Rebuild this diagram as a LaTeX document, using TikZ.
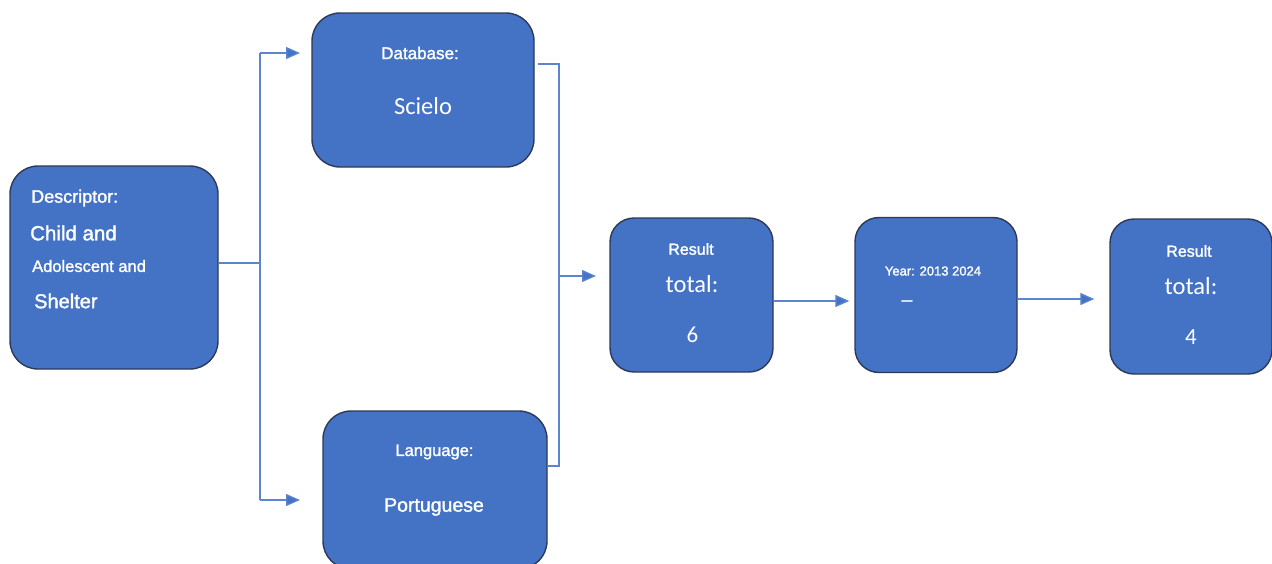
\documentclass[tikz,border=0pt]{standalone}
\usepackage{fontspec}
\setmainfont{Liberation Sans}
\newfontfamily\semib{Liberation Sans}[FakeBold=1.6]
\newfontfamily\calib{Carlito}
\usetikzlibrary{arrows.meta}
\definecolor{boxfill}{HTML}{4472C4}
\definecolor{boxline}{HTML}{2C3A58}
\definecolor{connc}{HTML}{5B85D0}
\begin{document}
\begin{tikzpicture}[x=1pt,y=-1pt,
  box/.style={draw=boxline, line width=1.4pt, fill=boxfill, rounded corners=28pt, inner sep=0pt},
  sbox/.style={box, rounded corners=24pt},
  lbl/.style={text=white, inner sep=0pt},
  conn/.style={draw=connc, line width=1.3pt},
  arr/.style={conn, -{Triangle[length=14pt,width=12pt,fill=boxfill]}}]
\useasboundingbox (0,0) rectangle (1272,563);
% boxes
\node[box, minimum width=208pt, minimum height=203pt] (desc) at (114,267.5) {};
\node[box, minimum width=222pt, minimum height=154pt] (db) at (423,90) {};
\node[box, minimum width=224pt, minimum height=158pt] (lang) at (435,490) {};
\node[sbox, minimum width=163pt, minimum height=154pt] (res1) at (691.5,295) {};
\node[sbox, minimum width=162pt, minimum height=155pt] (year) at (936,295) {};
\node[sbox, minimum width=162pt, minimum height=155pt] (res2) at (1191,296.5) {};
% texts
\node[lbl, anchor=west, font=\semib\fontsize{18}{18}\selectfont] (t1) at (31,198) {Descriptor:};
\node[lbl, anchor=west, font=\semib\fontsize{20.5}{20}\selectfont] (t2) at (30,233) {Child and};
\node[lbl, anchor=west, font=\semib\fontsize{16.5}{16}\selectfont] (t3) at (32,266) {Adolescent and};
\node[lbl, anchor=west, font=\semib\fontsize{20}{20}\selectfont] (t4) at (34,301) {Shelter};
\node[lbl, font=\semib\fontsize{17}{17}\selectfont] (t5) at (420,53) {Database:};
\node[lbl, font=\calib\fontsize{24.5}{24}\selectfont] (t6) at (423,106) {Scielo};
\node[lbl, font=\semib\fontsize{16.5}{16}\selectfont] (t7) at (434.5,452) {Language:};
\node[lbl, font=\semib\fontsize{19.5}{19}\selectfont] (t8) at (434,507) {Portuguese};
\node[lbl, font=\semib\fontsize{16}{16}\selectfont] (t9) at (691,249) {Result};
\node[lbl, font=\calib\fontsize{24.5}{24}\selectfont] (t10) at (692,284) {total:};
\node[lbl, font=\calib\fontsize{23}{23}\selectfont] (t11) at (692.5,335) {6};
\node[lbl, font=\semib\fontsize{13}{13}\selectfont] (t12) at (933,271) {Year: 2013 2024};
\node[lbl, font=\semib\fontsize{19}{19}\selectfont] (t13) at (907,303) {–};
\node[lbl, font=\semib\fontsize{16}{16}\selectfont] (t14) at (1189,251) {Result};
\node[lbl, font=\calib\fontsize{24.5}{24}\selectfont] (t15) at (1191,286) {total:};
\node[lbl, font=\calib\fontsize{23}{23}\selectfont] (t16) at (1191,337) {4};
% junction coordinates
\coordinate (jl) at (260,263);
\coordinate (jltop) at (260,53);
\coordinate (jlbot) at (260,500);
\coordinate (adb) at (300,53);
\coordinate (alang) at (300,500);
\coordinate (jrtop) at (559,64);
\coordinate (jrbot) at (559,466);
\coordinate (jrmid) at (559,276);
\coordinate (ares1) at (596,276);
% connectors
\draw[conn] ([yshift=4.5pt]desc.east) -- (jl);
\draw[conn] (jltop) -- (jlbot);
\draw[arr] (jltop) -- (adb);
\draw[arr] (jlbot) -- (alang);
\draw[conn] ([xshift=3pt,yshift=26pt]db.east) -- (jrtop) -- (jrbot) -- ([yshift=24pt]lang.east);
\draw[arr] (jrmid) -- (ares1);
\draw[arr] ([yshift=-6pt]res1.east) -- ([xshift=-5pt,yshift=-6pt]year.west);
\draw[arr] ([yshift=-4pt]year.east) -- ([xshift=-15pt,yshift=-2.5pt]res2.west);
\end{tikzpicture}
\end{document}
